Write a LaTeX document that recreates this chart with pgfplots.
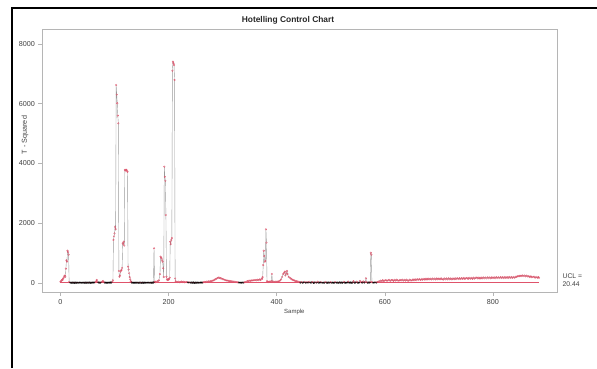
\documentclass[border=0pt]{standalone}
\usepackage{pgfplots}
\pgfplotsset{compat=1.18}
\usepackage{pgfplotstable}
\usepackage{fontspec}
\setmainfont{Liberation Sans}
\definecolor{rred}{HTML}{DF536B}
\definecolor{axgray}{HTML}{B5B5B5}
\definecolor{txtgray}{HTML}{404040}
\pgfplotstableread[row sep=\\]{
x y\\
0 40\\ 1 60\\ 2 90\\ 3 110\\ 4 100\\ 5 150\\ 6 180\\ 7 230\\ 8 250\\ 9 210\\ 10 480\\ 11 760\\ 12 720\\ 13 1080\\ 14 1040\\ 15 950\\ 16 30\\
18 12\\ 20 9\\ 22 14\\ 24 11\\ 26 8\\ 28 13\\ 30 10\\ 32 12\\ 34 9\\ 36 15\\ 38 11\\ 40 7\\ 42 13\\ 44 10\\ 46 12\\ 48 9\\ 50 14\\ 52 11\\ 54 16\\ 56 10\\ 58 12\\ 60 15\\ 62 18\\ 64 25\\ 66 60\\ 67 100\\ 68 40\\ 70 17\\ 72 14\\ 74 12\\ 76 30\\ 78 55\\ 79 65\\ 80 28\\ 82 15\\ 84 12\\ 86 10\\ 88 14\\ 90 11\\ 92 16\\ 94 13\\ 96 40\\ 97 90\\
98 1440\\ 99 1560\\ 100 1660\\ 101 1880\\ 102 1800\\ 103 6620\\ 104 6300\\ 105 6010\\ 106 5600\\ 107 5340\\ 108 400\\ 109 210\\ 110 250\\ 111 380\\ 112 420\\ 113 435\\ 114 500\\ 115 1330\\ 116 1300\\ 117 1380\\ 118 1250\\ 119 3780\\ 120 3760\\ 121 3790\\ 122 3780\\ 123 3750\\ 124 3720\\ 125 545\\ 126 450\\ 127 325\\ 128 200\\ 129 120\\ 130 60\\ 131 30\\
132 15\\ 134 11\\ 136 8\\ 138 12\\ 140 10\\ 142 14\\ 144 9\\ 146 11\\ 148 13\\ 150 7\\ 152 12\\ 154 10\\ 156 15\\ 158 9\\ 160 11\\ 162 13\\ 164 8\\ 166 12\\ 168 10\\ 170 14\\
172 18\\ 173 1160\\ 174 30\\ 175 45\\ 176 25\\ 178 40\\ 180 60\\ 182 90\\ 184 300\\ 185 880\\ 186 850\\ 187 825\\ 188 760\\ 189 715\\ 190 490\\ 191 200\\ 192 3890\\ 193 3550\\ 194 3420\\ 195 2275\\ 196 210\\ 197 120\\ 198 100\\ 199 130\\ 200 110\\ 201 140\\ 202 180\\ 203 1380\\ 204 1300\\ 205 1440\\ 206 1500\\ 207 7100\\ 208 7400\\ 209 7350\\ 210 7290\\ 211 6790\\ 212 150\\ 213 60\\
214 40\\ 216 30\\ 218 45\\ 220 25\\ 222 35\\ 224 50\\ 226 30\\ 228 40\\ 230 22\\ 232 35\\ 234 28\\ 236 18\\ 238 25\\ 240 12\\ 242 15\\ 244 10\\ 246 18\\ 248 8\\ 250 14\\ 252 11\\ 254 16\\ 256 9\\ 258 13\\ 260 17\\ 262 12\\ 264 22\\ 266 35\\ 268 30\\ 270 45\\ 272 40\\ 274 55\\ 276 48\\ 278 60\\ 280 70\\ 282 80\\ 284 95\\ 286 120\\ 288 140\\ 290 165\\ 292 180\\ 294 175\\ 296 160\\ 298 150\\ 300 130\\ 302 120\\ 304 100\\ 306 90\\ 308 85\\ 310 75\\ 312 70\\ 314 60\\ 316 55\\ 318 50\\ 320 45\\ 322 40\\ 324 35\\ 326 30\\ 328 25\\ 330 18\\ 332 14\\ 334 10\\ 336 16\\ 338 12\\ 340 22\\ 342 35\\ 344 45\\ 346 60\\ 348 70\\ 350 80\\ 352 75\\ 354 90\\ 356 85\\ 358 95\\ 360 100\\ 362 90\\ 364 110\\ 366 95\\ 368 120\\ 370 100\\
372 150\\ 373 140\\ 374 200\\ 375 600\\ 376 1080\\ 377 900\\ 378 710\\ 379 735\\ 380 1795\\ 381 1350\\ 382 60\\ 383 40\\ 384 30\\ 386 50\\ 388 40\\ 390 60\\ 391 300\\ 392 50\\ 394 40\\
396 35\\ 398 45\\ 400 40\\ 402 50\\ 404 60\\ 406 80\\ 408 120\\ 410 200\\ 412 300\\ 414 350\\ 415 380\\ 416 250\\ 418 320\\ 419 400\\ 420 300\\ 422 200\\ 424 180\\ 426 150\\ 428 120\\ 430 100\\ 432 90\\ 434 70\\ 436 60\\ 438 50\\ 440 40\\
442 25\\ 444 15\\ 446 30\\ 448 12\\ 450 20\\ 452 35\\ 454 10\\ 456 25\\ 458 14\\ 460 40\\ 462 11\\ 464 18\\ 466 30\\ 468 9\\ 470 15\\ 472 22\\ 474 12\\ 476 45\\ 478 10\\ 480 16\\ 482 28\\ 484 8\\ 486 14\\ 488 11\\ 490 35\\ 492 13\\ 494 9\\ 496 17\\ 498 12\\ 500 25\\ 502 10\\ 504 15\\ 506 8\\ 508 30\\ 510 12\\ 512 14\\ 514 9\\ 516 20\\ 518 11\\ 520 16\\ 522 10\\ 524 40\\ 526 13\\ 528 9\\ 530 15\\ 532 50\\ 534 12\\ 536 18\\ 538 10\\ 540 14\\ 542 60\\ 544 11\\ 546 17\\ 548 45\\ 550 9\\ 552 13\\ 554 70\\ 556 30\\ 558 12\\ 560 50\\ 562 16\\ 564 40\\ 565 155\\ 566 30\\ 568 12\\ 570 18\\ 572 14\\ 573 40\\ 574 1010\\ 575 950\\ 576 30\\ 578 12\\ 580 16\\ 582 25\\ 584 14\\ 586 30\\ 588 45\\
590 55\\ 592 80\\ 594 62\\ 596 92\\ 598 66\\ 600 85\\ 602 98\\ 604 70\\ 606 90\\ 608 105\\ 610 72\\ 612 95\\ 614 100\\ 616 75\\ 618 104\\ 620 80\\ 622 110\\ 624 84\\ 626 78\\ 628 104\\ 630 86\\ 632 112\\ 634 80\\ 636 106\\ 638 82\\ 640 108\\ 642 84\\ 644 80\\ 646 112\\ 648 88\\ 650 84\\ 652 116\\ 654 90\\ 656 122\\ 658 94\\ 660 128\\ 662 100\\ 664 132\\ 666 104\\ 668 136\\ 670 110\\ 672 140\\ 674 114\\ 676 142\\ 678 116\\ 680 148\\ 682 120\\ 684 144\\ 686 116\\ 688 150\\ 690 122\\ 692 148\\ 694 118\\ 696 152\\ 698 124\\ 700 150\\ 702 120\\ 704 154\\ 706 126\\ 708 118\\ 710 152\\ 712 124\\ 714 150\\ 716 120\\ 718 158\\ 720 126\\ 722 152\\ 724 122\\ 726 154\\ 728 126\\ 730 158\\ 732 128\\ 734 162\\ 736 132\\ 738 160\\ 740 130\\ 742 165\\ 744 136\\ 746 168\\ 748 138\\ 750 162\\ 752 170\\ 754 140\\ 756 175\\ 758 145\\ 760 172\\ 762 142\\ 764 178\\ 766 148\\ 768 174\\ 770 182\\ 772 150\\ 774 180\\ 776 152\\ 778 185\\ 780 155\\ 782 188\\ 784 158\\ 786 184\\ 788 155\\ 790 190\\ 792 160\\ 794 188\\ 796 158\\ 798 192\\ 800 162\\ 802 190\\ 804 160\\ 806 195\\ 808 165\\ 810 192\\ 812 162\\ 814 198\\ 816 168\\ 818 195\\ 820 165\\ 822 200\\ 824 170\\ 826 198\\ 828 168\\ 830 202\\ 832 172\\ 834 200\\ 836 170\\ 838 205\\ 840 175\\ 842 208\\ 844 210\\ 846 232\\ 848 222\\ 850 248\\ 852 228\\ 854 252\\ 856 230\\ 858 250\\ 860 225\\ 862 246\\ 864 220\\ 866 228\\ 868 200\\ 870 222\\ 872 192\\ 874 205\\ 876 212\\ 878 180\\ 880 205\\ 882 176\\ 884 198\\ 885 172\\
}\data
\begin{document}
\begin{tikzpicture}[x=1pt,y=1pt]
\useasboundingbox (0,0) rectangle (597,368);
\draw[line width=2.4pt] (12.2,0) -- (12.2,360) -- (597,360);
\begin{axis}[
  at={(42pt,76pt)}, anchor=south west,
  scale only axis, width=515pt, height=263pt,
  xmin=-34.2, xmax=918.4, ymin=-301, ymax=8494,
  xtick={0,200,400,600,800}, ytick={0,2000,4000,6000,8000},
  xtick pos=left, ytick pos=left,
  tick align=outside, major tick length=3.5pt,
  axis line style={axgray, line width=0.6pt},
  tick style={axgray, line width=0.5pt},
  scaled y ticks=false,
  /pgf/number format/assume math mode=true,
  /pgf/number format/1000 sep={},
  ticklabel style={font=\fontsize{7.2}{8}\selectfont, text=txtgray},
  ylabel={T - Squared},
  ylabel style={at={(axis description cs:-0.033,0.597)}, anchor=center, font=\fontsize{7.2}{8}\selectfont, text=txtgray},
  xlabel={Sample},
  xlabel style={at={(axis description cs:0.49,-0.076)}, anchor=center, font=\fontsize{6}{7}\selectfont, text=txtgray},
  clip=false,
]
\addplot[black!40, line width=0.4pt, forget plot] table[x=x,y=y]{\data};
\addplot[rred, line width=0.5pt, forget plot] coordinates {(0,20.44) (885,20.44)};
\addplot[only marks, mark=o, mark size=0.85pt, rred, line width=0.3pt, restrict y to domain=20.44:100000, forget plot] table[x=x,y=y]{\data};
\addplot[only marks, mark=o, mark size=0.85pt, black, line width=0.3pt, restrict y to domain=-100:20.44, forget plot] table[x=x,y=y]{\data};
\node[anchor=west, align=left, font=\fontsize{6.8}{8}\selectfont, text=txtgray] at (axis description cs:1.004,0.046) {UCL =\\20.44};
\node[anchor=center, font=\bfseries\fontsize{8.4}{10}\selectfont, text=black!85] at (axis description cs:0.4777,1.034) {Hotelling Control Chart};
\end{axis}
\end{tikzpicture}
\end{document}
